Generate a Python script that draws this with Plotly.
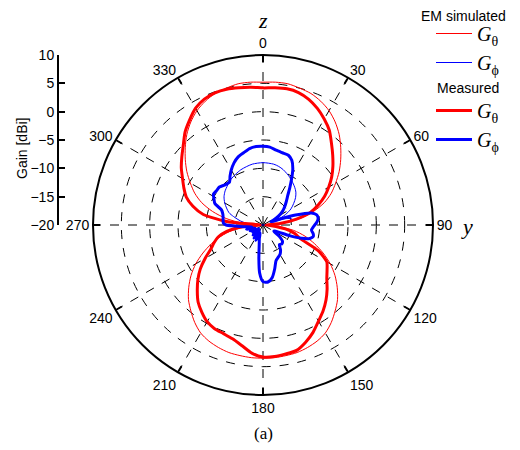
import plotly.graph_objects as go

# ---------------- data ----------------
# Simulated G_theta (symmetric about the z axis), 0..180 deg
sim_theta_ang_half = [0, 5, 10, 15, 20, 25, 30, 35, 40, 45, 50, 55, 60, 65, 70, 75, 80, 85, 90,
                      95, 100, 105, 110, 115, 120, 125, 130, 135, 140, 145, 150, 155, 160, 165,
                      170, 175, 180]
sim_theta_val_half = [5.2, 5.3, 5.3, 5.0, 4.7, 4.1, 3.3, 2.2, 0.9, -0.6, -2.1, -3.6, -5.2, -6.7,
                      -8.5, -10.8, -13.4, -16.5, -19.5, -17.5, -14.5, -12.3, -10.3, -8.3, -6.3,
                      -4.5, -2.9, -1.4, -0.2, 1.0, 2.0, 2.6, 3.0, 3.3, 3.4, 3.5, 3.5]

# Simulated G_phi
sim_phi_ang = [0, 10, 15, 20, 30, 40, 45, 50, 55, 60, 65, 70, 72, 74, 78, 82, 86, 90, 180, 270,
               272, 276, 280, 286, 290, 295, 300, 306, 312, 317, 322, 328, 332, 338, 344, 350, 360]
sim_phi_val = [-9.0, -9.1, -9.3, -9.6, -10.4, -11.3, -11.8, -12.5, -13.4, -14.3, -15.6, -17.3,
               -18.5, -16.0, -14.8, -15.5, -18.0, -20.0, -20.0, -20.0,
               -19.0, -17.1, -16.0, -14.6, -13.6, -12.9, -12.2, -11.5, -11.0, -10.7, -10.3,
               -10.0, -9.8, -9.5, -9.3, -9.1, -9.0]

# Measured G_theta
meas_theta_ang = [0, 5, 10, 15, 20, 25, 30, 35, 40, 45, 50, 55, 60, 65, 70, 75, 80, 85, 90, 95,
                  100, 105, 110, 115, 120, 125, 130, 135, 140, 145, 150, 155, 160, 165, 170, 175,
                  180, 185, 190, 195, 200, 205, 210, 215, 220, 225, 230, 235, 240, 245, 250, 255,
                  260, 265, 270, 275, 280, 285, 290, 295, 300, 305, 310, 315, 320, 325, 330, 335,
                  340, 345, 350, 355, 360]
meas_theta_val = [4.2, 4.3, 4.4, 4.2, 3.6, 2.7, 1.6, 0.4, -1.2, -2.6, -3.9, -5.2, -6.6, -8.0,
                  -9.6, -11.3, -14.0, -17.0, -19.5, -18.5, -16.0, -14.2, -13.0, -9.2, -7.0, -6.2,
                  -5.3, -4.0, -2.7, -1.5, -0.4, 0.9, 2.0, 2.9, 3.1, 3.3, 3.3, 2.7, 1.6, 0.8, 0.4,
                  0.2, -0.3, -1.2, -2.2, -3.6, -5.0, -6.5, -8.2, -9.8, -10.8, -11.8, -13.5, -16.0,
                  -19.5, -14.0, -9.3, -7.2, -5.6, -4.6, -3.6, -2.4, -1.3, -0.1, 1.4, 2.6, 3.8, 4.5,
                  4.8, 4.8, 4.6, 4.4, 4.2]

# Measured G_phi
meas_phi_ang = [0, 5, 10, 15, 20, 24, 28, 32, 36, 40, 45, 50, 55, 60, 65, 68, 71, 73, 76, 79,
                82, 85, 88, 92, 96, 100, 103, 106, 109, 112, 116, 120, 125, 130, 135, 140, 145,
                150, 155, 160, 165, 170, 175, 180, 184, 187, 191, 195, 200, 205, 210, 215, 220,
                225, 230, 235, 240, 245, 250, 255, 260, 265, 268, 270, 273, 277, 282, 286, 290,
                294, 298, 302, 306, 311, 316, 322, 326, 330, 335, 340, 345, 350, 355, 360]
meas_phi_val = [-6.1, -6.2, -6.6, -6.8, -6.9, -7.5, -8.8, -10.5, -12.0, -13.2, -14.2, -15.0,
                -15.8, -16.8, -18.0, -18.5, -16.5, -14.0, -11.2, -10.4, -10.2, -10.3, -10.6,
                -11.1, -11.4, -11.0, -10.9, -11.4, -12.8, -15.0, -17.5, -17.8, -16.5, -15.5,
                -15.3, -15.5, -14.6, -14.0, -13.7, -13.3, -12.0, -10.6, -9.9, -10.0, -11.5,
                -14.0, -16.5, -17.5, -18.5, -17.0, -18.8, -17.2, -18.9, -17.5, -19.0, -17.8,
                -18.6, -17.5, -18.5, -17.0, -18.0, -16.5, -15.0, -13.5, -13.0, -12.9, -12.8,
                -12.6, -12.2, -10.7, -10.2, -9.7, -9.8, -9.8, -10.2, -10.4, -9.6, -8.8, -7.9,
                -7.2, -6.8, -6.3, -6.1, -6.1]

angle_ticks = [0, 30, 60, 90, 120, 150, 180, 210, 240, 270, 300, 330]
gain_ticks = [-20, -15, -10, -5, 0, 5, 10]
radial_grid = [-15, -10, -5, 0, 5]
gain_range = [-20, 10]

# mirror the symmetric simulated G_theta to a full turn
sim_theta_ang = sim_theta_ang_half + [360 - a for a in reversed(sim_theta_ang_half[:-1])]
sim_theta_val = sim_theta_val_half + list(reversed(sim_theta_val_half[:-1]))

RED = "#ff0000"
BLUE = "#0000ff"
G_T = "<i>G</i><sub>θ</sub>"
G_P = "<i>G</i><sub>ϕ</sub>"

fig = go.Figure()
fig.add_trace(go.Scatterpolar(r=sim_theta_val, theta=sim_theta_ang, mode="lines",
                              line=dict(color=RED, width=1, shape="spline", smoothing=0.8),
                              name=G_T, legendgroup="sim"))
fig.add_trace(go.Scatterpolar(r=sim_phi_val, theta=sim_phi_ang, mode="lines",
                              line=dict(color=BLUE, width=1, shape="spline", smoothing=0.8),
                              name=G_P, legendgroup="sim"))
fig.add_trace(go.Scatterpolar(r=meas_theta_val, theta=meas_theta_ang, mode="lines",
                              line=dict(color=RED, width=3, shape="spline", smoothing=0.6),
                              name=G_T, legendgroup="meas"))
fig.add_trace(go.Scatterpolar(r=meas_phi_val, theta=meas_phi_ang, mode="lines",
                              line=dict(color=BLUE, width=3, shape="spline", smoothing=0.6),
                              name=G_P, legendgroup="meas"))

# invisible trace for the separate gain scale
fig.add_trace(go.Scatter(x=[0, 0], y=gain_range, mode="lines", line=dict(width=0),
                         showlegend=False, hoverinfo="skip", xaxis="x", yaxis="y"))

# page body has an 8 px margin: figure is 512x442 and screen pixels are shifted by 8
OFF = 8
W, H = 520 - OFF, 450 - OFF


def px(xs):
    return (xs - OFF) / W


def py(ys):
    return (H - (ys - OFF)) / H


cx, cy, R = 263, 225, 170
SERIF = "Liberation Serif, Times New Roman, serif"
SANS = "Liberation Sans, Arial, sans-serif"

fig.update_layout(
    width=W, height=H,
    margin=dict(l=0, r=0, t=0, b=0, autoexpand=False),
    paper_bgcolor="white", plot_bgcolor="white",
    font=dict(family=SANS, size=14, color="black"),
    polar=dict(
        domain=dict(x=[px(cx - R), px(cx + R)], y=[py(cy + R), py(cy - R)]),
        bgcolor="white",
        angularaxis=dict(rotation=90, direction="clockwise", tickmode="array",
                         tickvals=angle_ticks, ticktext=[str(a) for a in angle_ticks],
                         showline=True, linecolor="black", linewidth=2,
                         showgrid=True, gridcolor="black", gridwidth=1, griddash="dash",
                         ticks="inside", ticklen=6, tickwidth=1.5, tickcolor="black",
                         tickfont=dict(size=14, family=SANS)),
        radialaxis=dict(range=gain_range, tickmode="array", tickvals=radial_grid,
                        showticklabels=False, ticks="", showline=False,
                        showgrid=True, gridcolor="black", gridwidth=1, griddash="dash"),
    ),
    xaxis=dict(domain=[px(59), px(62)], range=[0, 1], visible=False, fixedrange=True),
    yaxis=dict(domain=[py(cy), py(cy - R)], range=gain_range, anchor="x",
               tickmode="array", tickvals=gain_ticks, ticks="inside", ticklen=6,
               tickwidth=1.5, tickcolor="black", showline=True, linecolor="black",
               linewidth=2, showgrid=False, zeroline=False, fixedrange=True,
               tickfont=dict(size=14, family=SANS)),
    legend=dict(x=px(431), xanchor="left", y=py(14), yanchor="top",
                traceorder="grouped", bgcolor="rgba(0,0,0,0)", tracegroupgap=19,
                itemwidth=36, font=dict(family=SERIF, size=20)),
    showlegend=True,
    annotations=[
        dict(text="EM simulated", x=px(508), y=py(16), xref="paper", yref="paper",
             xanchor="right", yanchor="middle", showarrow=False, font=dict(size=14)),
        dict(text="Measured", x=px(501), y=py(88), xref="paper", yref="paper",
             xanchor="right", yanchor="middle", showarrow=False, font=dict(size=14)),
        dict(text="Gain [dBi]", x=px(22), y=py(149), xref="paper", yref="paper",
             xanchor="center", yanchor="middle",
             textangle=-90, showarrow=False, font=dict(size=14)),
        dict(text="<i>z</i>", x=px(cx), y=py(20), xref="paper", yref="paper",
             xanchor="center", yanchor="middle",
             showarrow=False, font=dict(family=SERIF, size=22)),
        dict(text="<i>y</i>", x=px(467), y=py(226), xref="paper", yref="paper",
             xanchor="center", yanchor="middle",
             showarrow=False, font=dict(family=SERIF, size=22)),
        dict(text="(a)", x=px(cx), y=py(433), xref="paper", yref="paper",
             xanchor="center", yanchor="middle",
             showarrow=False, font=dict(family=SERIF, size=17)),
    ],
)

fig.write_html("out.html")
